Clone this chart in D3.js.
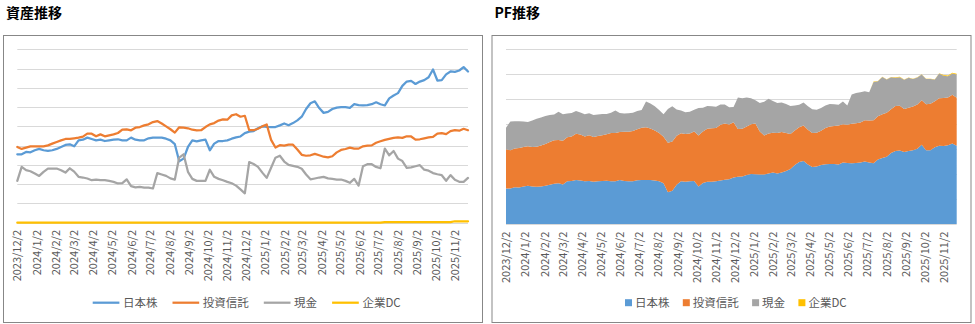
<!DOCTYPE html>
<html><head><meta charset="utf-8">
<script src="https://cdn.jsdelivr.net/npm/d3@7"></script>
<style>
body{margin:0;background:#fff;}
svg{display:block;font-family:"Noto Sans CJK JP","Noto Sans",sans-serif;}
</style>
</head><body>
<svg id="c" width="975" height="324"></svg>
<script>
// ---- data (values in millions of yen, weekly) ----
const startDate = "2023-12-02";
const stepDays = 7;
const seriesNames = ["日本株", "投資信託", "現金", "企業DC"];
const japanStocks = [
 7.10, 7.10, 7.34, 7.31, 7.52, 7.66, 7.52, 7.45, 7.52, 7.66,
 7.86, 8.07, 8.14, 7.93, 8.55, 8.62, 8.83, 8.69, 8.55, 8.62,
 8.48, 8.55, 8.62, 8.66, 8.55, 8.55, 8.83, 8.62, 8.55, 8.55,
 8.76, 8.83, 8.83, 8.83, 8.72, 8.55, 8.15, 6.38, 6.65, 7.86,
 8.55, 8.45, 8.55, 8.62, 7.52, 8.21, 8.48, 8.48, 8.55, 8.72,
 8.85, 8.95, 9.30, 9.45, 9.50, 9.80, 10.00, 9.95, 9.93, 9.93,
 10.10, 10.30, 10.12, 10.34, 10.62, 11.00, 11.80, 12.40, 12.60, 11.90,
 11.40, 11.50, 11.80, 11.95, 12.00, 12.00, 11.93, 12.30, 12.20, 12.17,
 12.20, 12.30, 12.50, 12.30, 12.17, 12.90, 13.20, 13.45, 14.20, 14.65,
 14.72, 14.40, 14.65, 14.80, 15.10, 15.90, 14.76, 14.80, 15.40, 15.70,
 15.65, 15.80, 16.15, 15.70
];
const investmentTrusts = [
 7.86, 7.66, 7.79, 7.93, 7.93, 7.93, 7.93, 8.03, 8.21, 8.38,
 8.55, 8.69, 8.69, 8.76, 8.83, 8.93, 9.24, 9.24, 8.97, 9.17,
 8.97, 9.07, 9.17, 9.31, 9.66, 9.69, 9.59, 9.86, 9.93, 10.10,
 10.21, 10.45, 10.55, 10.30, 10.00, 9.70, 9.35, 9.90, 9.86, 9.80,
 9.65, 9.59, 9.60, 9.93, 10.21, 10.34, 10.60, 10.72, 10.69, 11.14,
 11.26, 11.00, 11.10, 9.60, 9.60, 9.75, 10.00, 10.20, 8.60, 7.80,
 8.05, 8.00, 8.10, 8.10, 7.60, 7.05, 6.95, 7.00, 7.15, 7.00,
 6.85, 6.78, 6.90, 7.30, 7.55, 7.65, 7.80, 7.69, 7.69, 7.93,
 8.00, 8.03, 8.30, 8.45, 8.60, 8.70, 8.80, 8.85, 8.80, 8.97,
 8.95, 8.62, 8.66, 8.76, 8.85, 8.90, 9.25, 9.30, 9.20, 9.50,
 9.60, 9.55, 9.75, 9.60
];
const cash = [
 4.34, 5.79, 5.45, 5.34, 5.10, 4.86, 5.28, 5.62, 5.62, 5.62,
 5.45, 5.20, 5.65, 5.30, 4.76, 4.69, 4.59, 4.41, 4.48, 4.41,
 4.41, 4.34, 4.24, 4.07, 4.10, 4.50, 3.80, 3.67, 3.72, 3.65,
 3.65, 3.55, 5.15, 5.00, 4.86, 4.60, 4.48, 6.76, 7.10, 5.28,
 4.55, 4.34, 4.34, 4.34, 5.50, 4.76, 4.55, 4.41, 4.24, 4.10,
 3.85, 3.45, 3.05, 6.30, 6.10, 5.80, 5.20, 4.65, 5.70, 6.75,
 6.95, 6.35, 6.00, 5.90, 5.80, 5.60, 5.00, 4.50, 4.59, 4.69,
 4.76, 4.60, 4.55, 4.48, 4.48, 4.34, 4.14, 4.55, 3.85, 5.86,
 6.07, 6.07, 5.79, 5.65, 7.70, 7.00, 7.45, 6.65, 6.40, 5.70,
 5.75, 5.86, 5.97, 5.50, 5.40, 5.15, 5.03, 4.93, 4.35, 4.94,
 4.45, 4.25, 4.24, 4.65
];
const corporateDC = [
 0, 0, 0, 0, 0, 0, 0, 0, 0, 0,
 0, 0, 0, 0, 0, 0, 0, 0, 0, 0,
 0, 0, 0, 0, 0, 0, 0, 0, 0, 0,
 0, 0, 0, 0, 0, 0, 0, 0, 0, 0,
 0, 0, 0, 0, 0, 0, 0, 0, 0, 0,
 0, 0, 0, 0, 0, 0, 0, 0, 0, 0,
 0, 0, 0, 0, 0, 0, 0, 0, 0, 0,
 0, 0, 0, 0, 0, 0, 0, 0, 0, 0,
 0, 0, 0, 0, 0.06, 0.06, 0.06, 0.06, 0.06, 0.06,
 0.06, 0.06, 0.06, 0.06, 0.06, 0.06, 0.06, 0.06, 0.06, 0.06,
 0.15, 0.15, 0.15, 0.15
];
const tickLabels = [
 "2023/12/2","2024/1/2","2024/2/2","2024/3/2","2024/4/2","2024/5/2",
 "2024/6/2","2024/7/2","2024/8/2","2024/9/2","2024/10/2","2024/11/2",
 "2024/12/2","2025/1/2","2025/2/2","2025/3/2","2025/4/2","2025/5/2",
 "2025/6/2","2025/7/2","2025/8/2","2025/9/2","2025/10/2","2025/11/2"
];
const leftYTicks = [0, 2, 4, 6, 8, 10, 12, 14, 16, 18];
const rightYTicks = [0, 5, 10, 15, 20, 25, 30, 35];

// ---- setup ----
const colors = ["#5b9bd5", "#ed7d31", "#a5a5a5", "#ffc000"];
const series = [japanStocks, investmentTrusts, cash, corporateDC];
const start = d3.timeParse("%Y-%m-%d")(startDate);
const dates = japanStocks.map((_, i) => d3.timeDay.offset(start, i * stepDays));
const tickDates = tickLabels.map(d3.timeParse("%Y/%m/%d"));
const svg = d3.select("#c");
const labelColor = "#595959";

function frame(x, y, w, h, title) {
  svg.append("rect").attr("x", x + 0.5).attr("y", y + 0.5).attr("width", w).attr("height", h)
    .attr("fill", "#fff").attr("stroke", "#878787").attr("stroke-width", 1);
  svg.append("text").attr("x", x + 3).attr("y", 17.5).attr("font-size", 14).attr("font-weight", "bold")
    .attr("fill", "#000").text(title);
}

function axes(g, x, y, yTicks, labelTop) {
  g.append("g").selectAll("line").data(yTicks).join("line")
    .attr("x1", x.range()[0]).attr("x2", x.range()[1])
    .attr("y1", d => Math.round(y(d)) + 0.5).attr("y2", d => Math.round(y(d)) + 0.5)
    .attr("stroke", "#d9d9d9").attr("stroke-width", 1);
  g.append("g").selectAll("text").data(tickDates).join("text")
    .attr("transform", (d) => `translate(${x(d)},${labelTop}) rotate(-90)`)
    .attr("text-anchor", "end").attr("dy", "0.35em")
    .attr("font-size", 11).attr("fill", labelColor)
    .text((d, i) => tickLabels[i]);
}

// ---- left: line chart ----
frame(3, 35, 479, 287, "資産推移");
{
  const x = d3.scaleTime().domain(d3.extent(dates)).range([17.3, 468]);
  const y = d3.scaleLinear().domain([0, 18]).range([222.7, 49.3]);
  const g = svg.append("g");
  axes(g, x, y, leftYTicks, 230);
  const line = d3.line().x((d, i) => x(dates[i])).y(d => y(d));
  series.forEach((s, k) => {
    g.append("path").attr("d", line(s)).attr("fill", "none")
      .attr("stroke", colors[k]).attr("stroke-width", 2.25)
      .attr("stroke-linejoin", "round").attr("stroke-linecap", "round");
  });
  // legend
  let lx = 92.7;
  const ly = 302.7;
  seriesNames.forEach((n, k) => {
    g.append("line").attr("x1", lx).attr("x2", lx + 26.7).attr("y1", ly).attr("y2", ly)
      .attr("stroke", colors[k]).attr("stroke-width", 2.25);
    const t = g.append("text").attr("x", lx + 30.3).attr("y", ly).attr("dy", "0.35em")
      .attr("font-size", 11.5).attr("fill", labelColor).text(n);
    lx = lx + 30.3 + t.node().getComputedTextLength() + 15;
  });
}

// ---- right: stacked area chart ----
frame(491.5, 35, 479, 287, "PF推移");
{
  const x = d3.scaleTime().domain(d3.extent(dates)).range([506, 956.7]);
  const y = d3.scaleLinear().domain([0, 35]).range([224, 49.3]);
  const g = svg.append("g");
  axes(g, x, y, rightYTicks, 231.7);
  const rows = dates.map((date, i) => {
    const r = { date };
    seriesNames.forEach((n, k) => r[n] = series[k][i]);
    return r;
  });
  const stacked = d3.stack().keys(seriesNames)(rows);
  const area = d3.area().x(d => x(d.data.date)).y0(d => y(d[0])).y1(d => y(d[1]));
  stacked.forEach((layer, k) => {
    g.append("path").attr("d", area(layer)).attr("fill", colors[k]);
  });
  // legend
  let lx = 625;
  const ly = 302.7;
  seriesNames.forEach((n, k) => {
    g.append("rect").attr("x", lx).attr("y", ly - 3.5).attr("width", 7).attr("height", 7)
      .attr("fill", colors[k]);
    const t = g.append("text").attr("x", lx + 10).attr("y", ly).attr("dy", "0.35em")
      .attr("font-size", 11.5).attr("fill", labelColor).text(n);
    lx = lx + 10 + t.node().getComputedTextLength() + 13.3;
  });
}
</script>
</body></html>
